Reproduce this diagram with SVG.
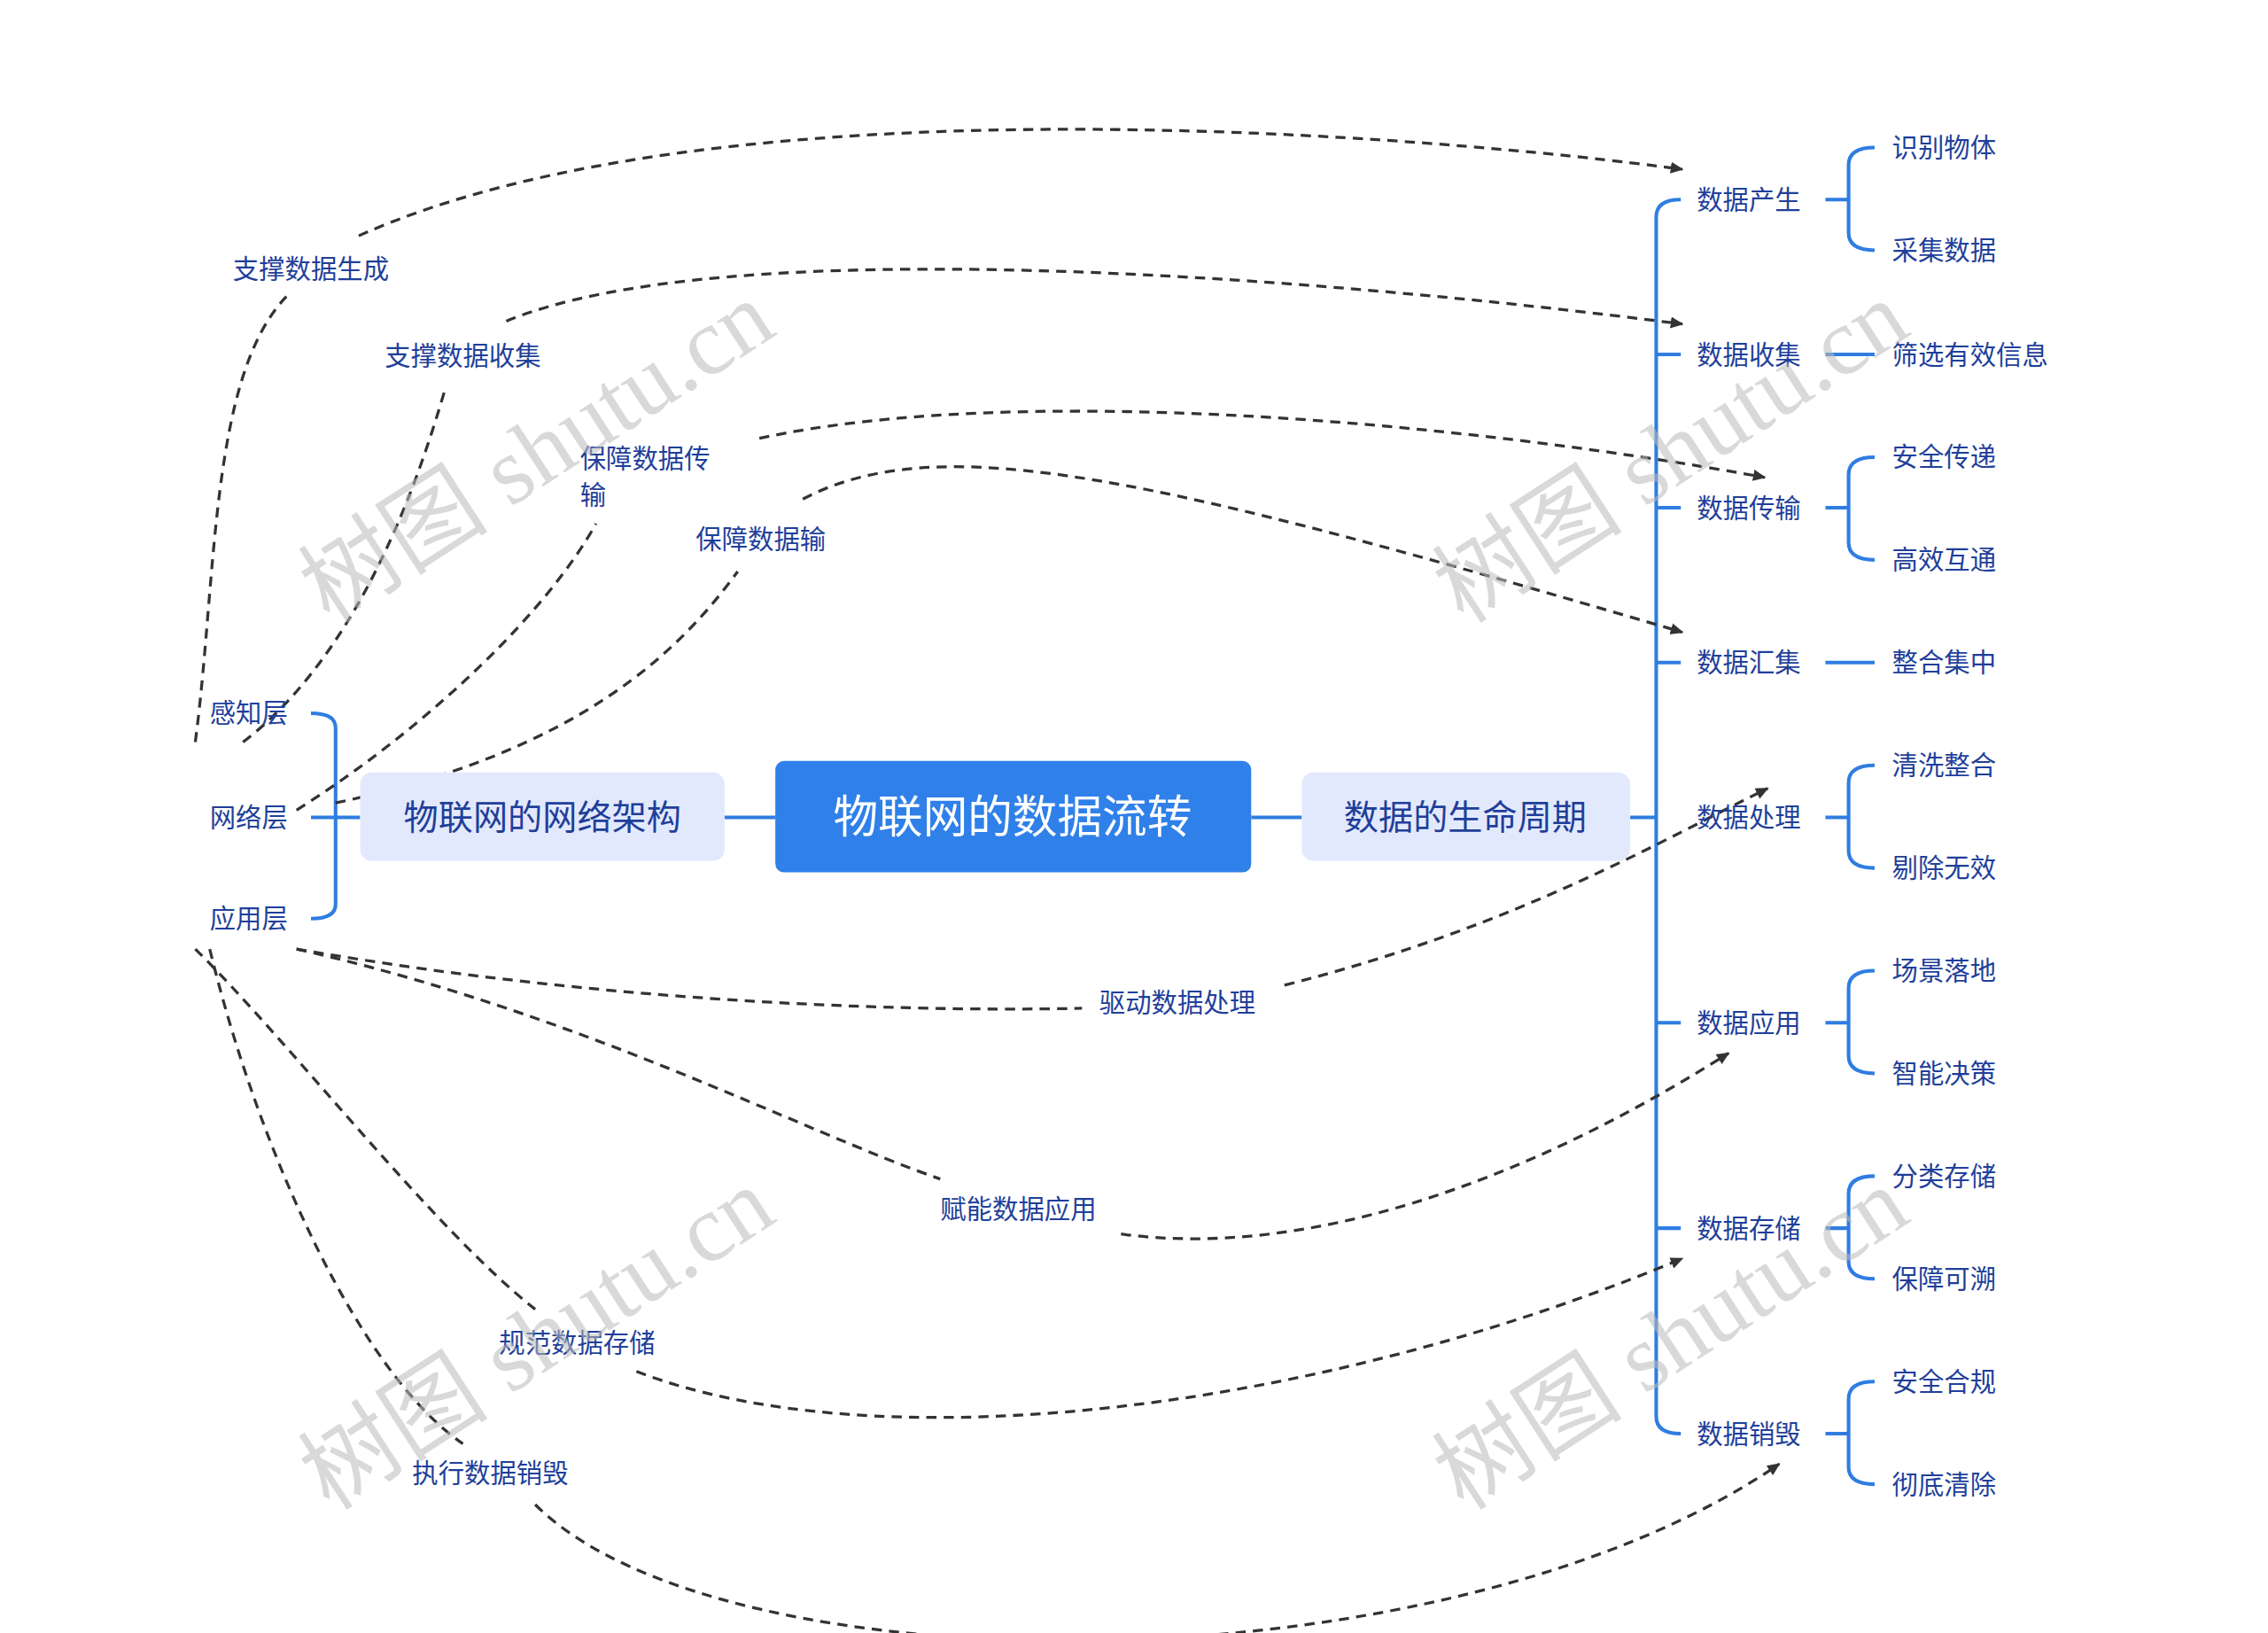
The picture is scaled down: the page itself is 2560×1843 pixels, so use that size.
<svg xmlns="http://www.w3.org/2000/svg" width="2560" height="1843" viewBox="0 0 2560 1843">
<style>
.t{font-family:"Liberation Sans","Noto Sans CJK SC",sans-serif;fill:#1f3f9a;font-size:18px;dominant-baseline:central}
.b{fill:none;stroke:#2f7de1;stroke-width:2.5}
.d{fill:none;stroke:#333;stroke-width:2;stroke-dasharray:7 5}
.w{font-family:"Liberation Serif","Noto Sans CJK SC",serif;fill:#bbb;opacity:0.55;font-size:66px}
</style>
<defs><marker id="a" markerWidth="10" markerHeight="10" refX="8" refY="5" orient="auto" markerUnits="userSpaceOnUse"><path d="M0,1 L9,5 L0,9 Z" fill="#333"/></marker></defs>
<rect width="2560" height="1843" fill="#fff"/>
<g transform="scale(1.6327)">
<g id="connectors">
<path class="b" d="M501 565H536M865 565H900M1127 565H1145M249 565H215"/>
<path class="b" d="M215 493Q232 493 232 503V625Q232 635 215 635"/>
<path class="b" d="M1162 138Q1145 138 1145 150V979Q1145 991 1162 991M1145 245Q1145 245 1162 245M1145 351H1162M1145 458H1162M1145 707H1162M1145 849H1162"/>
<path class="b" d="M1262 138H1278M1296 102Q1278 102 1278 114V161Q1278 173 1296 173"/>
<path class="b" d="M1262 245H1296M1262 458H1296"/>
<path class="b" d="M1262 351H1278M1296 316Q1278 316 1278 328V375Q1278 387 1296 387"/>
<path class="b" d="M1262 565H1278M1296 529Q1278 529 1278 541V588Q1278 600 1296 600"/>
<path class="b" d="M1262 707H1278M1296 671Q1278 671 1278 683V730Q1278 742 1296 742"/>
<path class="b" d="M1262 849H1278M1296 813Q1278 813 1278 825V872Q1278 884 1296 884"/>
<path class="b" d="M1262 991H1278M1296 955Q1278 955 1278 967V1014Q1278 1026 1296 1026"/>
<path class="d" d="M135 513C150 400 145 260 198 205"/>
<path class="d" marker-end="url(#a)" d="M248 163C500 50 1000 95 1163 117"/>
<path class="d" d="M168 513C250 450 290 330 308 268"/>
<path class="d" marker-end="url(#a)" d="M350 222C500 160 900 190 1163 224"/>
<path class="d" d="M205 560C300 500 380 420 412 362"/>
<path class="d" marker-end="url(#a)" d="M525 303C700 265 1000 290 1220 330"/>
<path class="d" d="M232 555C400 520 470 450 510 395"/>
<path class="d" marker-end="url(#a)" d="M555 345C650 295 800 330 1163 437"/>
<path class="d" d="M205 656C400 690 600 700 748 697"/>
<path class="d" marker-end="url(#a)" d="M888 681C1050 640 1150 580 1222 545"/>
<path class="d" d="M205 656C400 700 550 780 650 815"/>
<path class="d" marker-end="url(#a)" d="M775 853C900 870 1050 820 1195 728"/>
<path class="d" d="M135 656C200 720 300 850 370 905"/>
<path class="d" marker-end="url(#a)" d="M440 948C600 1010 900 980 1163 870"/>
<path class="d" d="M145 656C180 800 250 950 320 998"/>
<path class="d" marker-end="url(#a)" d="M370 1040C500 1170 1000 1170 1230 1012"/>
</g>
<g id="center"><rect x="536" y="526" width="329" height="77" rx="6" fill="#2f80e8"/><text x="700" y="565" text-anchor="middle" class="t" style="fill:#fff;font-size:31px">物联网的数据流转</text></g>
<g id="left"><rect x="249" y="534" width="252" height="61" rx="8" fill="#e3e9fd"/><text x="375" y="565" text-anchor="middle" class="t" style="font-size:24px">物联网的网络架构</text></g>
<g id="right"><rect x="900" y="534" width="227" height="61" rx="8" fill="#e3e9fd"/><text x="1013" y="565" text-anchor="middle" class="t" style="font-size:24px">数据的生命周期</text></g>
<g id="layers"><text class="t" x="145" y="493">感知层</text><text class="t" x="145" y="565">网络层</text><text class="t" x="145" y="635">应用层</text></g>
<g id="stages">
<text class="t" x="1173" y="138">数据产生</text><text class="t" x="1173" y="245">数据收集</text><text class="t" x="1173" y="351">数据传输</text><text class="t" x="1173" y="458">数据汇集</text><text class="t" x="1173" y="565">数据处理</text><text class="t" x="1173" y="707">数据应用</text><text class="t" x="1173" y="849">数据存储</text><text class="t" x="1173" y="991">数据销毁</text>
</g>
<g id="subs">
<text class="t" x="1308" y="102">识别物体</text><text class="t" x="1308" y="173">采集数据</text><text class="t" x="1308" y="245">筛选有效信息</text><text class="t" x="1308" y="316">安全传递</text><text class="t" x="1308" y="387">高效互通</text><text class="t" x="1308" y="458">整合集中</text><text class="t" x="1308" y="529">清洗整合</text><text class="t" x="1308" y="600">剔除无效</text><text class="t" x="1308" y="671">场景落地</text><text class="t" x="1308" y="742">智能决策</text><text class="t" x="1308" y="813">分类存储</text><text class="t" x="1308" y="884">保障可溯</text><text class="t" x="1308" y="955">安全合规</text><text class="t" x="1308" y="1026">彻底清除</text>
</g>
<g id="labels">
<text class="t" x="161" y="186">支撑数据生成</text><text class="t" x="266" y="246">支撑数据收集</text><text class="t" x="401" y="317">保障数据传</text><text class="t" x="401" y="342">输</text><text class="t" x="481" y="373">保障数据输</text><text class="t" x="760" y="693">驱动数据处理</text><text class="t" x="650" y="836">赋能数据应用</text><text class="t" x="345" y="928">规范数据存储</text><text class="t" x="285" y="1018">执行数据销毁</text>
</g>
<g id="watermarks">
<text class="w" transform="translate(228,432) rotate(-33)">树图 shutu.cn</text>
<text class="w" transform="translate(1012,432) rotate(-33)">树图 shutu.cn</text>
<text class="w" transform="translate(228,1045) rotate(-33)">树图 shutu.cn</text>
<text class="w" transform="translate(1012,1045) rotate(-33)">树图 shutu.cn</text>
</g>
</g>
</svg>
